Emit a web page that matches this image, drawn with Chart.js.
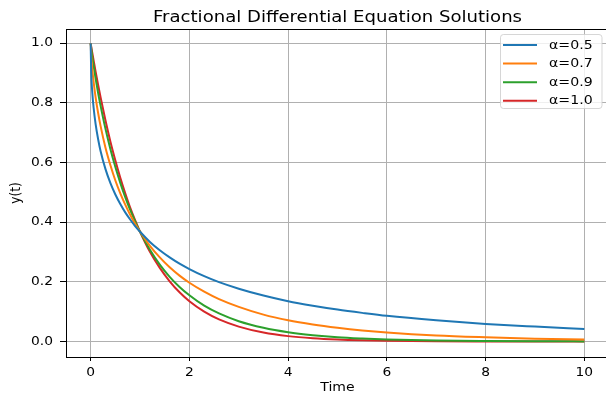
<!DOCTYPE html>
<html>
<head>
<meta charset="utf-8">
<script src="https://cdn.jsdelivr.net/npm/chart.js@4.4.1/dist/chart.umd.min.js"></script>
<style>
html,body{margin:0;padding:0;overflow:hidden;background:#fff;width:606px;height:396px;}
#wrap{position:absolute;left:0;top:0;width:612px;height:396px;}
</style>
</head>
<body>
<div id="wrap"><canvas id="c" width="612" height="396"></canvas></div>
<script>
// Data
const times = [0, 0.01, 0.03, 0.06, 0.1, 0.15, 0.2, 0.3, 0.4, 0.5, 0.6, 0.7, 0.8, 0.9, 1.0, 1.2, 1.4, 1.6, 1.8, 2.0, 2.3, 2.6, 3.0, 3.5, 4.0, 4.5, 5.0, 5.5, 6.0, 7.0, 8.0, 9.0, 10.0];
const alpha05 = [1, 0.905, 0.841, 0.783, 0.729, 0.679, 0.639, 0.578, 0.531, 0.493, 0.461, 0.433, 0.409, 0.387, 0.368, 0.334, 0.306, 0.282, 0.261, 0.243, 0.219, 0.199, 0.177, 0.154, 0.135, 0.120, 0.107, 0.096, 0.086, 0.071, 0.059, 0.050, 0.042];
const alpha07 = [1, 0.961, 0.918, 0.870, 0.819, 0.767, 0.723, 0.650, 0.591, 0.540, 0.497, 0.459, 0.425, 0.395, 0.368, 0.321, 0.282, 0.249, 0.221, 0.197, 0.167, 0.142, 0.116, 0.090, 0.071, 0.057, 0.046, 0.037, 0.030, 0.020, 0.014, 0.0095, 0.0067];
const alpha09 = [1, 0.984, 0.958, 0.924, 0.882, 0.834, 0.791, 0.713, 0.645, 0.585, 0.532, 0.484, 0.441, 0.403, 0.368, 0.308, 0.258, 0.217, 0.183, 0.155, 0.120, 0.094, 0.068, 0.046, 0.031, 0.021, 0.014, 0.0097, 0.0066, 0.0031, 0.0015, 0.0007, 0.0004];
const alpha10 = [1, 0.990, 0.970, 0.942, 0.905, 0.861, 0.819, 0.741, 0.670, 0.607, 0.549, 0.497, 0.449, 0.407, 0.368, 0.301, 0.247, 0.202, 0.165, 0.135, 0.100, 0.074, 0.050, 0.030, 0.018, 0.011, 0.0067, 0.0041, 0.0025, 0.0009, 0.0003, 0.0001, 0.00005];
const seriesLabels = ['α=0.5', 'α=0.7', 'α=0.9', 'α=1.0'];
const seriesColors = ['#1f77b4', '#ff7f0e', '#2ca02c', '#d62728'];
const xTicks = [0, 2, 4, 6, 8, 10];
const yTicks = [0.0, 0.2, 0.4, 0.6, 0.8, 1.0];
const titleText = 'Fractional Differential Equation Solutions';
const xLabel = 'Time';
const yLabel = 'y(t)';

const FONT = '"DejaVu Sans"';
const SX = 1.15; // horizontal text stretch seen in the reference
const allSeries = [alpha05, alpha07, alpha09, alpha10];

const datasets = allSeries.map((s, i) => ({
  label: seriesLabels[i],
  data: times.map((t, j) => ({x: t, y: s[j]})),
  borderColor: seriesColors[i],
  backgroundColor: seriesColors[i],
  borderWidth: 2,
  pointRadius: 0,
  fill: false,
  cubicInterpolationMode: 'monotone'
}));

function txt(ctx, s, x, y, size, sx, align, base, rot) {
  ctx.save();
  ctx.translate(x, y);
  if (rot) { ctx.rotate(-Math.PI / 2); ctx.scale(1, sx); } else { ctx.scale(sx, 1); }
  ctx.font = size + 'px ' + FONT;
  ctx.textAlign = align;
  ctx.textBaseline = base;
  ctx.fillStyle = '#000';
  ctx.fillText(s, 0, 0);
  ctx.restore();
}

const overlay = {
  id: 'overlay',
  afterDraw(chart) {
    const ctx = chart.ctx;
    const a = chart.chartArea;
    const xs = chart.scales.x, ys = chart.scales.y;
    ctx.save();
    // top/right spines
    ctx.strokeStyle = '#000';
    ctx.lineWidth = 1;
    ctx.beginPath();
    ctx.moveTo(a.left, a.top + 0.5);
    ctx.lineTo(a.right, a.top + 0.5);
    ctx.moveTo(a.right - 0.5, a.top);
    ctx.lineTo(a.right - 0.5, a.bottom);
    ctx.stroke();
    // title
    txt(ctx, titleText, (a.left + a.right) / 2, 21.5, 16, 1.13, 'center', 'alphabetic');
    // tick labels
    xTicks.forEach(v => txt(ctx, String(v), xs.getPixelForValue(v), 375.5, 12, SX, 'center', 'alphabetic'));
    yTicks.forEach(v => txt(ctx, v.toFixed(1), 53, ys.getPixelForValue(v), 12, SX, 'right', 'middle'));
    // axis labels
    txt(ctx, xLabel, (a.left + a.right) / 2, 390.5, 12.2, SX, 'center', 'alphabetic');
    txt(ctx, yLabel, 16, (a.top + a.bottom) / 2, 12.2, SX, 'center', 'middle', true);
    // legend
    const bx = 500.5, by = 34.5, bw = 101.5, bh = 74, r = 3;
    ctx.beginPath();
    ctx.moveTo(bx + r, by);
    ctx.arcTo(bx + bw, by, bx + bw, by + bh, r);
    ctx.arcTo(bx + bw, by + bh, bx, by + bh, r);
    ctx.arcTo(bx, by + bh, bx, by, r);
    ctx.arcTo(bx, by, bx + bw, by, r);
    ctx.closePath();
    ctx.fillStyle = 'rgba(255,255,255,0.8)';
    ctx.fill();
    ctx.strokeStyle = 'rgba(204,204,204,0.8)';
    ctx.lineWidth = 1;
    ctx.stroke();
    chart.data.datasets.forEach((d, i) => {
      const y = 45 + i * 18.6;
      ctx.strokeStyle = d.borderColor;
      ctx.lineWidth = 2;
      ctx.beginPath();
      ctx.moveTo(503, y);
      ctx.lineTo(537, y);
      ctx.stroke();
      txt(ctx, d.label, 549, y + 0.5, 12.3, SX, 'left', 'middle');
    });
    ctx.restore();
  }
};

function draw() {
  new Chart(document.getElementById('c'), {
    type: 'line',
    data: {datasets},
    options: {
      responsive: false,
      animation: false,
      devicePixelRatio: 1,
      layout: {padding: {top: 29, right: 3, left: 0, bottom: 0}},
      plugins: {legend: {display: false}, title: {display: false}, tooltip: {enabled: false}},
      scales: {
        x: {
          type: 'linear',
          min: -0.5, max: 10.5,
          afterBuildTicks: s => { s.ticks = xTicks.map(v => ({value: v})); },
          afterFit: s => { s.height = 39; },
          grid: {color: '#b0b0b0', lineWidth: 1, tickColor: '#000', tickLength: 4, drawTicks: true},
          border: {display: true, color: '#000', width: 1},
          ticks: {display: false},
          title: {display: false}
        },
        y: {
          type: 'linear',
          min: -0.052, max: 1.048,
          afterBuildTicks: s => { s.ticks = yTicks.map(v => ({value: v})); },
          afterFit: s => { s.width = 66; },
          grid: {color: '#b0b0b0', lineWidth: 1, tickColor: '#000', tickLength: 6, drawTicks: true},
          border: {display: true, color: '#000', width: 1},
          ticks: {display: false},
          title: {display: false}
        }
      }
    },
    plugins: [overlay]
  });
}
if (document.fonts && document.fonts.load) {
  Promise.all([document.fonts.load('15px "DejaVu Sans"'), document.fonts.load('13px "DejaVu Sans"', 'α')]).then(draw, draw);
} else { draw(); }
</script>
</body>
</html>
